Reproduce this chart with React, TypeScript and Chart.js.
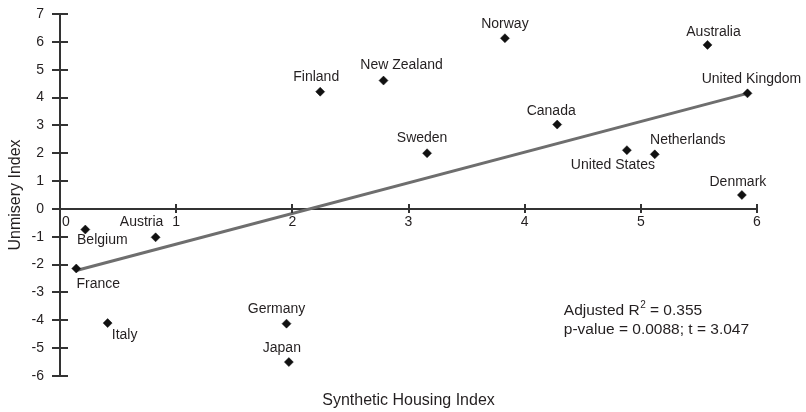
import React, { useEffect, useRef } from 'react';
import { Chart, registerables } from 'chart.js';

Chart.register(...registerables);

// ---- data ----
const COUNTRIES = [
  'Finland', 'New Zealand', 'Norway', 'Australia', 'United Kingdom', 'Canada',
  'Sweden', 'United States', 'Netherlands', 'Denmark', 'Belgium', 'Austria',
  'France', 'Italy', 'Germany', 'Japan',
];
const HOUSING_INDEX = [
  2.24, 2.785, 3.83, 5.574, 5.918, 4.28,
  3.16, 4.88, 5.12, 5.87, 0.218, 0.823,
  0.14, 0.41, 1.95, 1.97,
];
const UNMISERY_INDEX = [
  4.21, 4.61, 6.13, 5.89, 4.15, 3.03,
  2.0, 2.11, 1.96, 0.5, -0.74, -1.02,
  -2.14, -4.1, -4.12, -5.5,
];
const FIT_X = [0.14, 5.918];
const FIT_Y = [-2.21, 4.15];
const X_TICKS = [0, 1, 2, 3, 4, 5, 6];
const Y_TICKS = [-6, -5, -4, -3, -2, -1, 0, 1, 2, 3, 4, 5, 6, 7];
const X_TITLE = 'Synthetic Housing Index';
const Y_TITLE = 'Unmisery Index';
const STAT_LINE1 = ['Adjusted R', '2', ' = 0.355'];
const STAT_LINE2 = 'p-value = 0.0088; t = 3.047';
const STAT_POS_X = 4.337;
const STAT_POS_Y = [-3.65, -4.33];

// ---- label placement (pixel offsets of each label centre from its point) ----
const LABEL_OFFSETS: [number, number][] = [
  [-4, -15], [18, -15], [0, -14], [6, -13], [4, -14], [-6, -13],
  [-5, -15], [-14, 15], [33, -14], [-4, -13], [17, 11], [-14, -15],
  [22, 16], [17, 12], [-10, -15], [-7, -14],
];

const FONT = "'Liberation Sans', Arial, Helvetica, sans-serif";
const TEXT = '#231f20';
const AXIS = '#333333';

const decorPlugin = {
  id: 'decor',
  afterDraw(chart: any) {
    const { ctx } = chart;
    const xs = chart.scales.x;
    const ys = chart.scales.y;
    const x0 = Math.round(xs.getPixelForValue(0));
    const y0 = Math.round(ys.getPixelForValue(0));
    ctx.save();
    // tick marks crossing the axes
    ctx.strokeStyle = AXIS;
    ctx.lineWidth = 2;
    Y_TICKS.forEach((v) => {
      const py = Math.round(ys.getPixelForValue(v));
      ctx.beginPath();
      ctx.moveTo(x0 - 8, py);
      ctx.lineTo(x0 + 8, py);
      ctx.stroke();
    });
    X_TICKS.filter((v) => v !== 0).forEach((v) => {
      const px = Math.round(xs.getPixelForValue(v));
      ctx.beginPath();
      ctx.moveTo(px, y0 - 5);
      ctx.lineTo(px, y0 + 4);
      ctx.stroke();
    });
    // "0" of the x axis, nudged off the y axis
    ctx.fillStyle = TEXT;
    ctx.font = `14px ${FONT}`;
    ctx.textAlign = 'center';
    ctx.textBaseline = 'middle';
    ctx.fillText('0', x0 + 6, y0 + 13);

    // point labels
    const meta = chart.getDatasetMeta(0);
    meta.data.forEach((pt: any, i: number) => {
      const [dx, dy] = LABEL_OFFSETS[i];
      ctx.fillText(COUNTRIES[i], pt.x + dx, pt.y + dy);
    });

    // statistics
    ctx.textAlign = 'left';
    const sx = xs.getPixelForValue(STAT_POS_X);
    const sy1 = ys.getPixelForValue(STAT_POS_Y[0]);
    const sy2 = ys.getPixelForValue(STAT_POS_Y[1]);
    ctx.font = `15.5px ${FONT}`;
    let cx = sx;
    ctx.fillText(STAT_LINE1[0], cx, sy1);
    cx += ctx.measureText(STAT_LINE1[0]).width;
    ctx.font = `10px ${FONT}`;
    ctx.fillText(STAT_LINE1[1], cx + 0.5, sy1 - 5);
    cx += ctx.measureText(STAT_LINE1[1]).width + 0.5;
    ctx.font = `15.5px ${FONT}`;
    ctx.fillText(STAT_LINE1[2], cx, sy1);
    ctx.fillText(STAT_LINE2, sx, sy2);
    ctx.restore();
  },
};

export default function App() {
  const ref = useRef<HTMLCanvasElement | null>(null);

  useEffect(() => {
    document.body.style.margin = '0';
    if (!ref.current) return;
    const points = HOUSING_INDEX.map((x, i) => ({ x, y: UNMISERY_INDEX[i] }));
    const fit = FIT_X.map((x, i) => ({ x, y: FIT_Y[i] }));
    const chart = new Chart(ref.current, {
      type: 'scatter',
      data: {
        datasets: [
          {
            label: 'Countries',
            data: points,
            pointStyle: 'rectRot',
            pointRadius: 4.5,
            pointBackgroundColor: '#111111',
            pointBorderColor: '#111111',
            pointBorderWidth: 0.5,
          },
          {
            label: 'Fit',
            type: 'line',
            data: fit,
            borderColor: '#6e6e6e',
            borderWidth: 3,
            pointRadius: 0,
            fill: false,
          } as any,
        ],
      },
      plugins: [decorPlugin],
      options: {
        animation: false,
        responsive: false,
        layout: { padding: { top: 14, right: 49, left: 0, bottom: 0 } },
        plugins: { legend: { display: false }, tooltip: { enabled: false } },
        scales: {
          x: {
            type: 'linear',
            position: { y: 0 } as any,
            min: 0,
            max: 6,
            grid: { display: false, drawTicks: false, tickLength: 0 },
            border: { display: true, color: AXIS, width: 2 },
            ticks: {
              stepSize: 1,
              padding: 5,
              color: TEXT,
              font: { family: FONT, size: 14 },
              callback: (v: any) => (Number(v) === 0 ? '' : String(v)),
            },
            afterFit: (s: any) => {
              s.paddingTop = 0;
              s.paddingBottom = 0;
              s.paddingLeft = 0;
              s.paddingRight = 0;
              s.height = 0;
            },
          },
          x2: {
            type: 'linear',
            position: 'bottom',
            min: 0,
            max: 6,
            grid: { display: false, drawTicks: false },
            border: { display: false },
            ticks: { display: false },
            title: {
              display: true,
              text: X_TITLE,
              color: TEXT,
              font: { family: FONT, size: 16 },
              padding: { top: 0, bottom: 2 },
            },
            afterFit: (s: any) => {
              s.height = 36;
              s.paddingLeft = 0;
              s.paddingRight = 0;
            },
          },
          y: {
            type: 'linear',
            position: 'left',
            min: -6,
            max: 7,
            grid: { display: false, drawTicks: false, tickLength: 0 },
            border: { display: true, color: AXIS, width: 2 },
            ticks: {
              stepSize: 1,
              padding: 16,
              color: TEXT,
              font: { family: FONT, size: 14 },
            },
            title: {
              display: true,
              text: Y_TITLE,
              color: TEXT,
              font: { family: FONT, size: 16 },
              padding: { top: 6, bottom: 0 },
            },
            afterFit: (s: any) => {
              s.width = 60;
              s.paddingTop = 0;
              s.paddingBottom = 0;
            },
          },
        },
      },
    });
    return () => chart.destroy();
  }, []);

  return (
    <div style={{ position: 'absolute', left: 0, top: 0, width: 806, height: 412 }}>
      <canvas ref={ref} width={806} height={412} style={{ display: 'block' }} />
    </div>
  );
}
